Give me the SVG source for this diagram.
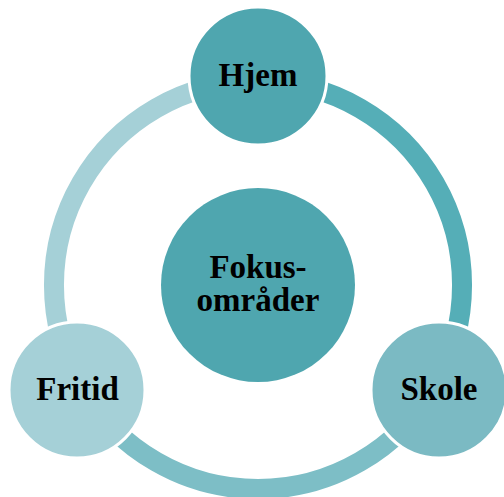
<svg xmlns="http://www.w3.org/2000/svg" width="504" height="497" viewBox="0 0 504 497">
<style>
.arc{fill:none;stroke-width:20;stroke-linecap:butt}
.node{stroke:#ffffff;stroke-width:3}
.lbl{font-family:"Liberation Serif","Times New Roman",serif;font-weight:bold;font-size:33px;fill:#000000;text-anchor:middle}
</style>
<rect width="504" height="497" fill="#ffffff"/>
<g id="connectors">
<path class="arc" stroke="#55AEB7" d="M258,81 A204,204 0 0 1 434.7,387"/>
<path class="arc" stroke="#7DBEC6" d="M434.7,387 A204,204 0 0 1 81.3,387"/>
<path class="arc" stroke="#A5D0D7" d="M81.3,387 A204,204 0 0 1 258,81"/>
</g>
<g id="node-center">
<circle cx="258" cy="285" r="97" fill="#4FA6AF"/>
<text class="lbl" x="258" y="278">Fokus-</text>
<text class="lbl" x="258" y="311">områder</text>
</g>
<g id="node-hjem">
<circle class="node" cx="258" cy="76" r="69" fill="#4FA6AF"/>
<text class="lbl" x="258" y="86">Hjem</text>
</g>
<g id="node-skole">
<circle class="node" cx="439" cy="390" r="68" fill="#7BBAC3"/>
<text class="lbl" x="439" y="400">Skole</text>
</g>
<g id="node-fritid">
<circle class="node" cx="77" cy="390" r="68" fill="#A5D0D7"/>
<text class="lbl" x="77.5" y="400">Fritid</text>
</g>
</svg>
